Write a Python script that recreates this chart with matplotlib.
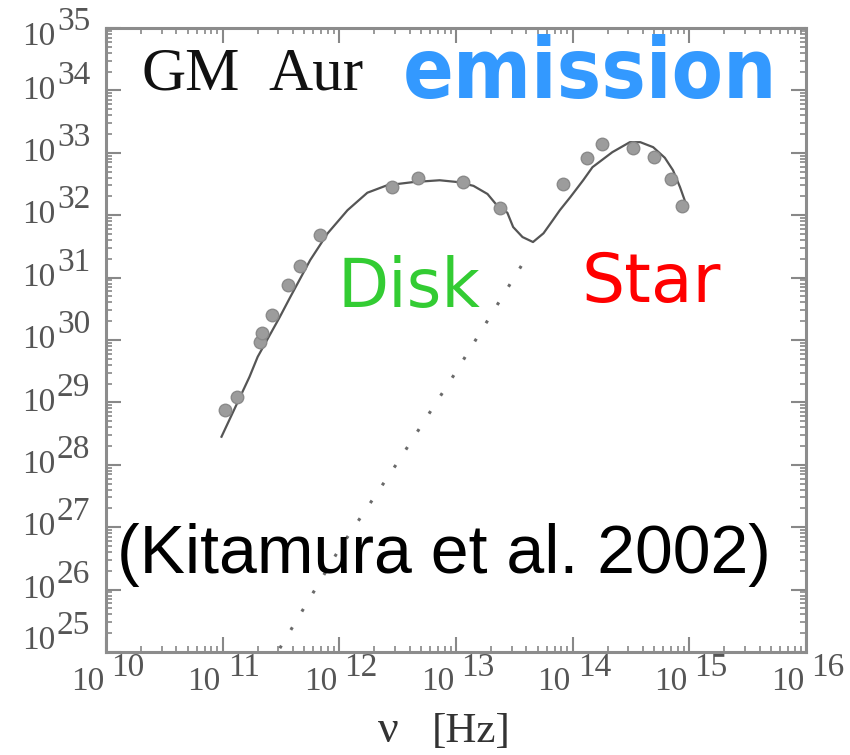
import matplotlib
matplotlib.use('Agg')
import matplotlib.pyplot as plt
import matplotlib.transforms as mtrans
from matplotlib.ticker import LogLocator, NullFormatter
import numpy as np

# ---- data (log10 values) ----
obs_lognu = [11.02, 11.12, 11.32, 11.34, 11.42, 11.56, 11.66, 11.83,
             12.45, 12.67, 13.06, 13.38, 13.92, 14.12, 14.25, 14.52,
             14.70, 14.84, 14.94]
obs_logL = [28.88, 29.09, 29.97, 30.11, 30.40, 30.88, 31.19, 31.68,
            32.45, 32.60, 32.53, 32.12, 32.50, 32.92, 33.14, 33.08,
            32.93, 32.58, 32.15]

model_lognu = [10.99, 11.23, 11.30, 11.49, 11.58, 11.75, 11.90, 12.07,
               12.24, 12.41, 12.63, 12.86, 13.02, 13.15, 13.27, 13.35,
               13.44, 13.49, 13.57, 13.66, 13.75, 13.83, 13.89, 13.98,
               14.09, 14.17, 14.34, 14.49, 14.58, 14.69, 14.79, 14.86,
               14.92, 14.96]
model_logL = [28.45, 29.41, 29.73, 30.37, 30.69, 31.28, 31.71, 32.08,
              32.36, 32.48, 32.53, 32.56, 32.53, 32.47, 32.34, 32.16,
              32.04, 31.81, 31.65, 31.57, 31.71, 31.92, 32.08, 32.29,
              32.56, 32.77, 33.01, 33.17, 33.17, 33.09, 32.92, 32.72,
              32.45, 32.24]

photo_lognu = [11.49, 12.00, 12.50, 13.00, 13.60]
photo_logL = [25.06, 26.65, 28.04, 29.49, 31.31]

x_exponents = [10, 11, 12, 13, 14, 15, 16]
y_exponents = [25, 26, 27, 28, 29, 30, 31, 32, 33, 34, 35]

W, H = 850, 755
fig = plt.figure(figsize=(W / 100, H / 100), dpi=100)
ax = fig.add_axes([106 / W, 1 - 652 / H, 700 / W, 624 / H])
ax.set_xscale('log')
ax.set_yscale('log')
ax.set_xlim(10.0 ** x_exponents[0], 10.0 ** x_exponents[-1])
ax.set_ylim(10.0 ** y_exponents[0], 10.0 ** y_exponents[-1])

ax.plot(10 ** np.array(model_lognu), 10 ** np.array(model_logL),
        color='#555555', lw=1.6, zorder=3)
ax.plot(10 ** np.array(photo_lognu), 10 ** np.array(photo_logL),
        color='#6a6a6a', lw=2.2, ls=(0, (1, 6)), zorder=2)
ax.plot(10 ** np.array(obs_lognu), 10 ** np.array(obs_logL), 'o',
        ms=9, mfc='#9c9c9c', mec='#8a8a8a', mew=1, zorder=4)

# ticks
ax.set_xticks([10.0 ** e for e in x_exponents])
ax.set_yticks([10.0 ** e for e in y_exponents])
ax.xaxis.set_minor_locator(LogLocator(base=10, subs=np.arange(2, 10), numticks=100))
ax.yaxis.set_minor_locator(LogLocator(base=10, subs=np.arange(2, 10), numticks=100))
ax.xaxis.set_major_formatter(NullFormatter())
ax.yaxis.set_major_formatter(NullFormatter())
ax.xaxis.set_minor_formatter(NullFormatter())
ax.yaxis.set_minor_formatter(NullFormatter())
ax.tick_params(which='both', direction='in', top=True, right=True, color='#888888')
ax.tick_params(which='major', length=11, width=1.5)
ax.tick_params(which='minor', length=4, width=1.2)
for s in ax.spines.values():
    s.set_color('#8c8c8c')
    s.set_linewidth(2.2)

# custom tick labels "10" + exponent, same size
tick_font = dict(family='Liberation Serif', size=24, color='#555555')
ytr = mtrans.blended_transform_factory(ax.transAxes, ax.transData)
for i, e in enumerate(y_exponents):
    dy = 0
    if i == 0:
        dy = 11
    elif i == len(y_exponents) - 1:
        dy = -9
    ax.text(0, 10.0 ** e, '10', ha='right', va='center',
            transform=mtrans.offset_copy(ytr, fig=fig, x=-51, y=dy, units='dots'),
            **tick_font)
    ax.text(0, 10.0 ** e, str(e), ha='left', va='center',
            transform=mtrans.offset_copy(ytr, fig=fig, x=-49, y=dy + 15, units='dots'),
            **tick_font)

xtr = mtrans.blended_transform_factory(ax.transData, ax.transAxes)
for e in x_exponents:
    ax.text(10.0 ** e, 0, '10', ha='right', va='center',
            transform=mtrans.offset_copy(xtr, fig=fig, x=-2, y=-30, units='dots'),
            **tick_font)
    ax.text(10.0 ** e, 0, str(e), ha='left', va='center',
            transform=mtrans.offset_copy(xtr, fig=fig, x=5, y=-16, units='dots'),
            **tick_font)

fig.text(388 / W, 1 - 742 / H, 'ν', family='Liberation Serif', size=33,
         ha='center', va='baseline', color='#333333')
fig.text(471 / W, 1 - 742 / H, '[Hz]', family='Liberation Serif', size=31,
         ha='center', va='baseline', color='#333333')

# annotations
fig.text(142 / W, 1 - 90 / H, 'GM', family='Liberation Serif', size=44,
         ha='left', va='baseline', color='#111111')
fig.text(268 / W, 1 - 90 / H, 'Aur', family='Liberation Serif', size=44,
         ha='left', va='baseline', color='#111111')
fig.text(403 / W, 1 - 98 / H, 'emission', family='DejaVu Sans', size=60,
         weight='bold', stretch='condensed',
         ha='left', va='baseline', color='#3399ff')
fig.text(337 / W, 1 - 307 / H, 'Disk', family='DejaVu Sans', size=48,
         ha='left', va='baseline', color='#33cc33')
fig.text(582 / W, 1 - 302 / H, 'Star', family='DejaVu Sans', size=49,
         ha='left', va='baseline', color='#ff0000')
fig.text(117 / W, 1 - 573 / H, '(Kitamura et al. 2002)', family='Liberation Sans',
         size=49, ha='left', va='baseline', color='#000000')

fig.savefig('out.png', dpi=100)
